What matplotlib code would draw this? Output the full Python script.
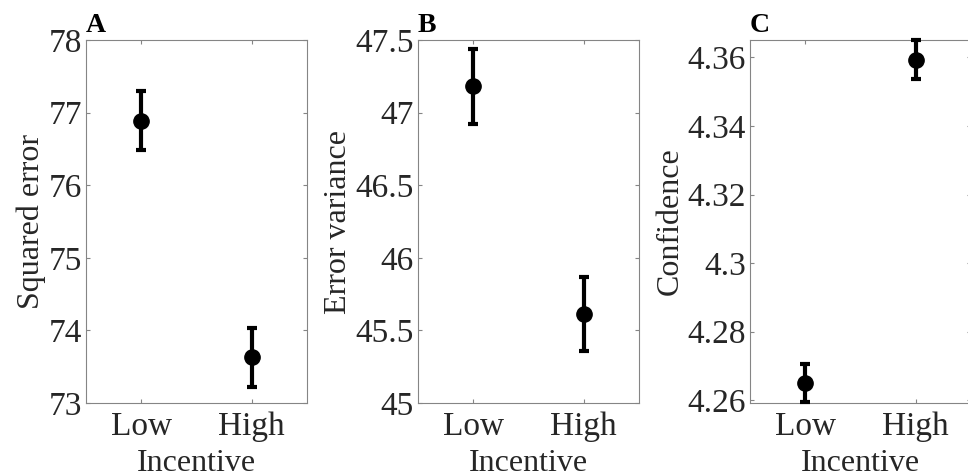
import matplotlib
matplotlib.use("Agg")
import matplotlib.pyplot as plt
from matplotlib.ticker import FuncFormatter

# data
conditions = ['Low', 'High']
sq_err = [76.89, 73.63]
sq_err_lo = [76.48, 73.22]
sq_err_hi = [77.30, 74.03]

err_var = [47.18, 45.61]
err_var_lo = [46.92, 45.36]
err_var_hi = [47.44, 45.87]

conf = [4.2650, 4.3592]
conf_lo = [4.2594, 4.3536]
conf_hi = [4.2705, 4.3650]

panels = [
    ('A', 'Squared error', sq_err, sq_err_lo, sq_err_hi, (73, 78), [73, 74, 75, 76, 77, 78]),
    ('B', 'Error variance', err_var, err_var_lo, err_var_hi, (45, 47.5), [45, 45.5, 46, 46.5, 47, 47.5]),
    ('C', 'Confidence', conf, conf_lo, conf_hi, (4.2592, 4.3651), [4.26, 4.28, 4.30, 4.32, 4.34, 4.36]),
]

plt.rcParams['font.family'] = ['Liberation Serif', 'DejaVu Serif']

W, H = 968, 476
fig = plt.figure(figsize=(W / 100, H / 100), dpi=100)

lefts = [86, 418, 750]
ax_w, top, bottom = 221, 40, 403
spine_col = '#858585'
text_col = '#262626'

for left, (tag, ylab, y, lo, hi, ylim, yticks) in zip(lefts, panels):
    ax = fig.add_axes([left / W, (H - bottom) / H, ax_w / W, (bottom - top) / H])
    x = [1, 2]
    yerr = [[m - l for m, l in zip(y, lo)], [h - m for m, h in zip(y, hi)]]
    ax.errorbar(x, y, yerr=yerr, fmt='o', color='black', ms=11, elinewidth=3,
                capsize=3.5, capthick=3, clip_on=False, zorder=3)
    ax.set_xlim(0.5, 2.5)
    ax.set_ylim(*ylim)
    ax.set_xticks(x)
    ax.set_xticklabels(conditions)
    ax.set_yticks(yticks)
    ax.yaxis.set_major_formatter(FuncFormatter(lambda v, p: '%g' % round(v, 4)))
    ax.tick_params(direction='in', length=3, width=0.8, color=spine_col,
                   labelsize=24, labelcolor=text_col, top=True, right=True, pad=3)
    ax.tick_params(axis='x', pad=6)
    for s in ax.spines.values():
        s.set_color(spine_col)
        s.set_linewidth(0.8)
    ax.set_xlabel('Incentive', fontsize=23, color=text_col, labelpad=5)
    ax.set_ylabel(ylab, fontsize=23, color=text_col, labelpad=2)
    ax.text(0.0, 1.005, tag, transform=ax.transAxes, fontsize=20, fontweight='bold',
            ha='left', va='bottom', color='black')

fig.savefig('out.png', dpi=100)
